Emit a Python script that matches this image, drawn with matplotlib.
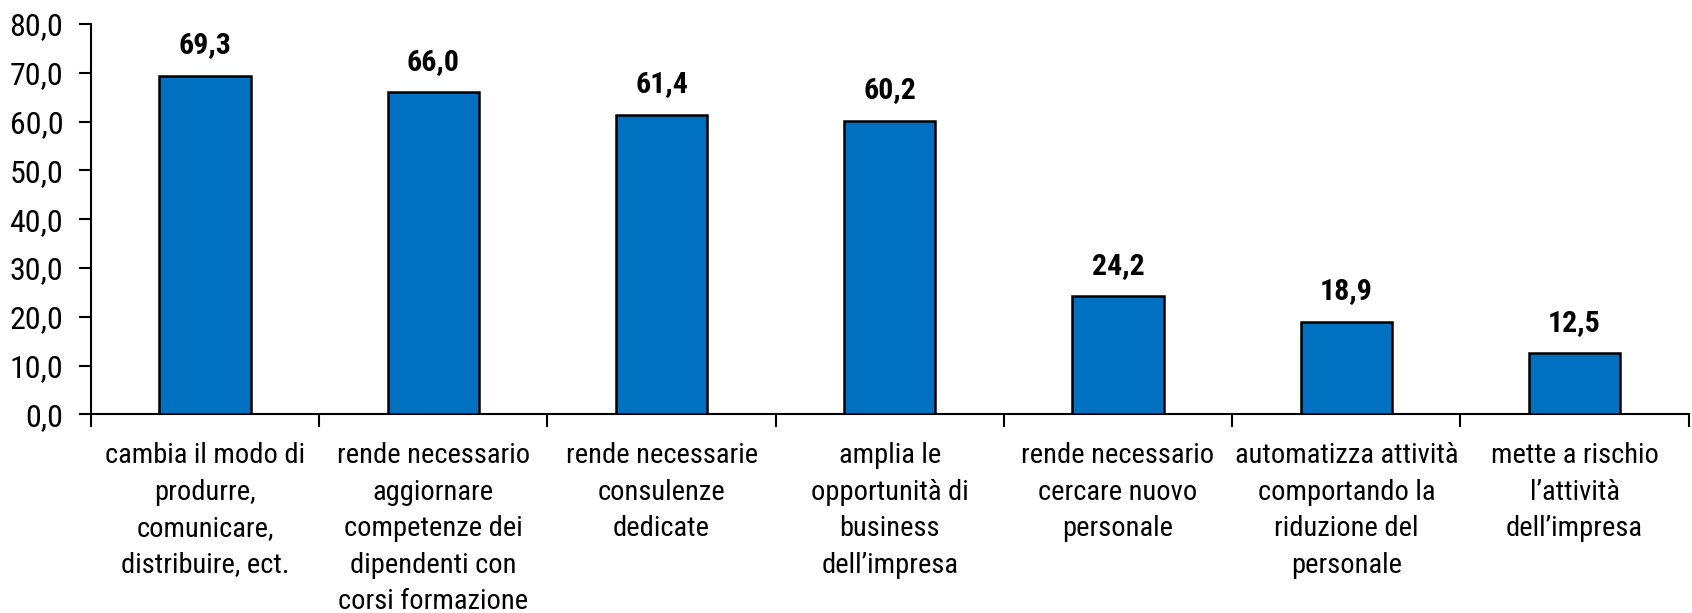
import matplotlib
matplotlib.use("Agg")
import matplotlib.pyplot as plt
from matplotlib.ticker import FixedLocator, FuncFormatter

plt.rcParams['font.family'] = ['Roboto Condensed', 'Liberation Sans', 'DejaVu Sans']

categories = [
    "cambia il modo di\nprodurre,\ncomunicare,\ndistribuire, ect.",
    "rende necessario\naggiornare\ncompetenze dei\ndipendenti con\ncorsi formazione",
    "rende necessarie\nconsulenze\ndedicate",
    "amplia le\nopportunità di\nbusiness\ndell\u2019impresa",
    "rende necessario\ncercare nuovo\npersonale",
    "automatizza attività\ncomportando la\nriduzione del\npersonale",
    "mette a rischio\nl\u2019attività\ndell\u2019impresa",
]
values = [69.3, 66.0, 61.4, 60.2, 24.2, 18.9, 12.5]
yticks = [0, 10, 20, 30, 40, 50, 60, 70, 80]

def it(v, d=1):
    return f"{v:.{d}f}".replace(".", ",")

fig = plt.figure(figsize=(16.92, 6.13), dpi=100)
ax = fig.add_axes([0.0538, 0.324, 0.998 - 0.0538, 0.961 - 0.324])

x = list(range(len(values)))
ax.bar(x, values, width=0.4, color="#0070C0", edgecolor="black", linewidth=1.8, zorder=3)

for xi, v in zip(x, values):
    ax.annotate(it(v), (xi, v), xytext=(0, 12), textcoords="offset points",
                ha="center", va="bottom", fontsize=21.5, fontweight="bold")

ax.set_xlim(-0.5, len(values) - 0.5)
ax.set_ylim(0, 80)
ax.yaxis.set_major_locator(FixedLocator(yticks))
ax.yaxis.set_major_formatter(FuncFormatter(lambda v, p: it(v)))

ax.xaxis.set_major_locator(FixedLocator([i - 0.5 for i in range(len(values) + 1)]))
ax.xaxis.set_major_formatter(FuncFormatter(lambda v, p: ""))
ax.xaxis.set_minor_locator(FixedLocator(x))
ax.set_xticklabels(categories, minor=True)
ax.tick_params(axis="x", which="minor", length=0, pad=20, labelsize=20.5)
ax.tick_params(axis="x", which="major", length=9, width=1.5, direction="out")
ax.tick_params(axis="y", length=9, width=1.5, direction="out", labelsize=23, pad=11)
for lab in ax.get_xticklabels(minor=True):
    lab.set_linespacing(1.45)
    lab.set_va("top")

for s in ["top", "right"]:
    ax.spines[s].set_visible(False)
for s in ["left", "bottom"]:
    ax.spines[s].set_linewidth(1.5)

fig.savefig("out.png", dpi=100)
